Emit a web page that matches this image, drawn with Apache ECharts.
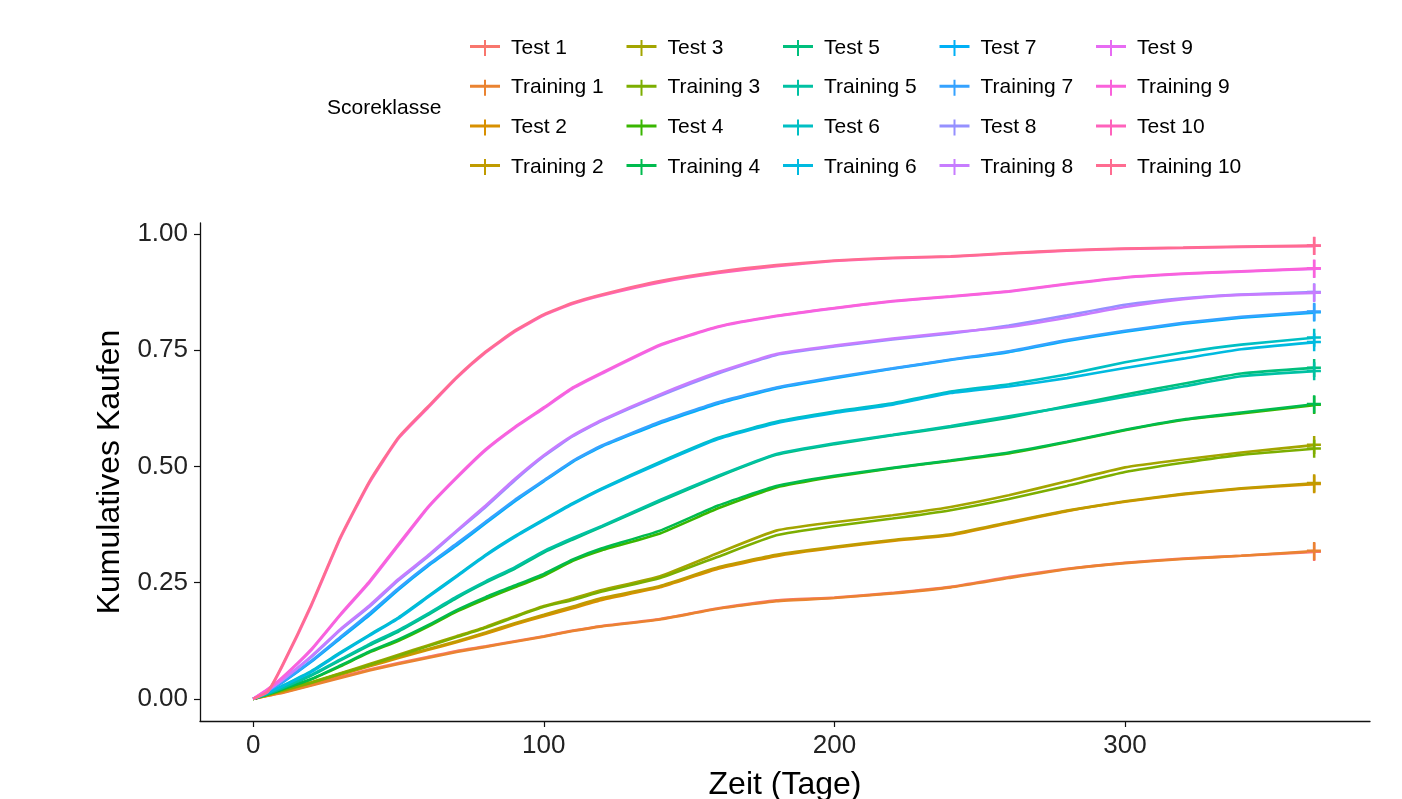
<!DOCTYPE html>
<html>
<head>
<meta charset="utf-8">
<script src="https://cdn.jsdelivr.net/npm/echarts@6/dist/echarts.min.js"></script>
<style>html,body{margin:0;padding:0;background:#fff;}#chart{width:1402px;height:799px;}</style>
</head>
<body>
<div id="chart"></div>
<script>
// ---- data ----
const days = [0,5,10,20,30,40,50,60,70,80,90,100,110,120,140,160,180,200,220,240,260,280,300,320,340,365];

const seriesNames = ['Test 1','Training 1','Test 2','Training 2','Test 3','Training 3','Test 4','Training 4','Test 5','Training 5',
                     'Test 6','Training 6','Test 7','Training 7','Test 8','Training 8','Test 9','Training 9','Test 10','Training 10'];

const test1      = [0,0.007,0.014,0.030,0.047,0.063,0.077,0.090,0.103,0.113,0.124,0.135,0.147,0.157,0.172,0.195,0.212,0.218,0.228,0.241,0.262,0.280,0.293,0.302,0.308,0.316];
const training1  = [0,0.007,0.013,0.029,0.045,0.061,0.075,0.088,0.101,0.112,0.123,0.134,0.146,0.156,0.171,0.194,0.210,0.217,0.227,0.240,0.260,0.279,0.292,0.301,0.308,0.318];
const test2      = [0,0.008,0.016,0.034,0.052,0.070,0.088,0.105,0.122,0.140,0.160,0.178,0.195,0.213,0.240,0.280,0.307,0.325,0.340,0.352,0.378,0.404,0.424,0.440,0.452,0.462];
const training2  = [0,0.008,0.017,0.035,0.054,0.072,0.090,0.107,0.124,0.143,0.163,0.181,0.199,0.217,0.243,0.283,0.310,0.327,0.342,0.354,0.380,0.405,0.425,0.441,0.453,0.464];
const test3      = [0,0.009,0.018,0.036,0.055,0.075,0.095,0.115,0.135,0.155,0.178,0.200,0.216,0.234,0.264,0.314,0.362,0.380,0.395,0.413,0.438,0.468,0.498,0.515,0.530,0.546];
const training3  = [0,0.009,0.018,0.035,0.054,0.073,0.093,0.113,0.133,0.153,0.176,0.198,0.213,0.231,0.260,0.306,0.352,0.372,0.388,0.406,0.430,0.458,0.488,0.508,0.525,0.538];
const test4      = [0,0.010,0.020,0.042,0.070,0.100,0.125,0.155,0.188,0.215,0.240,0.265,0.297,0.320,0.356,0.410,0.455,0.478,0.496,0.512,0.528,0.552,0.578,0.600,0.614,0.632];
const training4  = [0,0.010,0.021,0.043,0.072,0.102,0.128,0.158,0.191,0.219,0.244,0.269,0.300,0.324,0.362,0.416,0.458,0.480,0.497,0.513,0.530,0.553,0.579,0.601,0.616,0.634];
const test5      = [0,0.011,0.023,0.050,0.083,0.115,0.145,0.180,0.217,0.250,0.280,0.315,0.343,0.370,0.425,0.478,0.525,0.548,0.567,0.585,0.605,0.630,0.655,0.678,0.700,0.712];
const training5  = [0,0.011,0.024,0.052,0.085,0.118,0.148,0.183,0.220,0.253,0.283,0.318,0.346,0.372,0.428,0.480,0.527,0.550,0.568,0.587,0.608,0.628,0.650,0.672,0.694,0.705];
const test6      = [0,0.013,0.028,0.060,0.100,0.138,0.175,0.220,0.265,0.310,0.350,0.386,0.421,0.453,0.510,0.562,0.596,0.618,0.636,0.661,0.677,0.698,0.724,0.745,0.762,0.777];
const training6  = [0,0.013,0.027,0.058,0.098,0.136,0.173,0.218,0.263,0.308,0.348,0.384,0.419,0.451,0.507,0.559,0.593,0.615,0.633,0.658,0.672,0.690,0.712,0.732,0.752,0.767];
const test7      = [0,0.016,0.035,0.080,0.130,0.180,0.235,0.285,0.330,0.378,0.425,0.468,0.510,0.543,0.593,0.635,0.668,0.690,0.710,0.729,0.746,0.770,0.790,0.807,0.820,0.831];
const training7  = [0,0.017,0.036,0.082,0.133,0.184,0.238,0.288,0.334,0.381,0.428,0.470,0.512,0.545,0.596,0.638,0.670,0.692,0.711,0.730,0.748,0.772,0.792,0.809,0.822,0.833];
const test8      = [0,0.018,0.040,0.090,0.148,0.198,0.255,0.305,0.360,0.413,0.470,0.522,0.565,0.598,0.652,0.700,0.740,0.758,0.773,0.786,0.803,0.825,0.848,0.862,0.870,0.875];
const training8  = [0,0.019,0.041,0.092,0.150,0.201,0.258,0.308,0.362,0.416,0.473,0.524,0.567,0.600,0.655,0.703,0.742,0.760,0.775,0.788,0.800,0.820,0.843,0.860,0.869,0.873];
const test9      = [0,0.020,0.045,0.105,0.180,0.250,0.330,0.410,0.475,0.535,0.583,0.625,0.668,0.700,0.760,0.800,0.823,0.840,0.855,0.865,0.876,0.892,0.906,0.914,0.919,0.925];
const training9  = [0,0.021,0.046,0.107,0.182,0.253,0.333,0.412,0.477,0.537,0.585,0.627,0.670,0.702,0.762,0.801,0.824,0.841,0.856,0.866,0.877,0.893,0.907,0.915,0.920,0.926];
const test10     = [0,0.015,0.070,0.200,0.345,0.465,0.560,0.625,0.690,0.745,0.790,0.825,0.850,0.868,0.896,0.916,0.931,0.942,0.948,0.951,0.958,0.964,0.968,0.970,0.972,0.974];
const training10 = [0,0.016,0.072,0.203,0.348,0.468,0.563,0.628,0.692,0.747,0.792,0.827,0.852,0.870,0.899,0.919,0.933,0.943,0.949,0.952,0.959,0.965,0.969,0.971,0.973,0.975];

const seriesValues = [test1,training1,test2,training2,test3,training3,test4,training4,test5,training5,
                      test6,training6,test7,training7,test8,training8,test9,training9,test10,training10];

const colors = ['#F8766D','#EA8331','#D89000','#C09B00','#A3A500','#7CAE00','#39B600','#00BB4E','#00BF7D','#00C1A3',
                '#00BFC4','#00BAE0','#00B0F6','#35A2FF','#9590FF','#C77CFF','#E76BF3','#FA62DB','#FF62BC','#FF6C91'];

const xTicks = [0,100,200,300];
const yTicks = [0,0.25,0.5,0.75,1.0];

// ---- chart ----
const FONT = "'Liberation Sans', Arial, sans-serif";
const plusPath = 'path://M6,0L8.5,0L8.5,7.5L14,7.5L14,10L8.5,10L8.5,18L6,18L6,10L0,10L0,7.5L6,7.5Z';
const legendIcon = 'path://M0,5L14,5L14,0L16,0L16,5L30,5L30,8L16,8L16,16L14,16L14,8L0,8Z';

const series = seriesNames.map((name, k) => {
  const vals = seriesValues[k];
  const last = days.length - 1;
  return {
    name: name,
    type: 'line',
    color: colors[k],
    symbol: 'none',
    showSymbol: true,
    smooth: 0.15,
    lineStyle: { width: 2.6, color: colors[k] },
    itemStyle: { color: colors[k] },
    emphasis: { disabled: true },
    data: days.map((d, i) => i === last
      ? { value: [d, vals[i]], symbol: plusPath, symbolSize: [14, 18] }
      : [d, vals[i]])
  };
});

const legendCols = [];
for (let c = 0; c < 5; c++) {
  legendCols.push({
    orient: 'vertical',
    left: 465 + c * 156.5,
    top: 32,
    itemWidth: 30,
    itemHeight: 16,
    itemGap: 17.7,
    icon: legendIcon,
    selectedMode: false,
    textStyle: { fontSize: 21, lineHeight: 22, color: '#000', fontFamily: FONT, padding: [0, 0, 0, 6] },
    data: seriesNames.slice(c * 4, c * 4 + 4)
  });
}

const chart = echarts.init(document.getElementById('chart'));
chart.setOption({
  animation: false,
  backgroundColor: '#fff',
  textStyle: { fontFamily: FONT },
  grid: { left: 200, right: 32, top: 223, bottom: 78, containLabel: false, outerBoundsMode: 'none' },
  legend: legendCols,
  graphic: [{
    type: 'text', left: 327, top: 98,
    style: { text: 'Scoreklasse', fontSize: 21, fill: '#000', fontFamily: FONT }
  }],
  xAxis: {
    type: 'value', min: -18.3, max: 384.3,
    name: 'Zeit (Tage)', nameLocation: 'middle', nameGap: 48,
    nameTextStyle: { fontSize: 32, color: '#000', fontFamily: FONT },
    axisLine: { show: true, onZero: false, lineStyle: { color: '#111', width: 1.3 } },
    axisTick: { show: true, length: 6, customValues: xTicks, lineStyle: { color: '#111', width: 1.2 } },
    axisLabel: { customValues: xTicks, fontSize: 26, color: '#222', margin: 12, fontFamily: FONT },
    splitLine: { show: false }
  },
  yAxis: {
    type: 'value', min: -0.0475, max: 1.0237,
    name: 'Kumulatives Kaufen', nameLocation: 'middle', nameGap: 70, nameRotate: 90,
    nameTextStyle: { fontSize: 32, color: '#000', fontFamily: FONT },
    axisLine: { show: true, onZero: false, lineStyle: { color: '#111', width: 1.3 } },
    axisTick: { show: true, length: 6, customValues: yTicks, lineStyle: { color: '#111', width: 1.2 } },
    axisLabel: { customValues: yTicks, fontSize: 26, color: '#222', margin: 12, fontFamily: FONT,
                 formatter: v => v.toFixed(2) },
    splitLine: { show: false }
  },
  series: series
});
</script>
</body>
</html>
